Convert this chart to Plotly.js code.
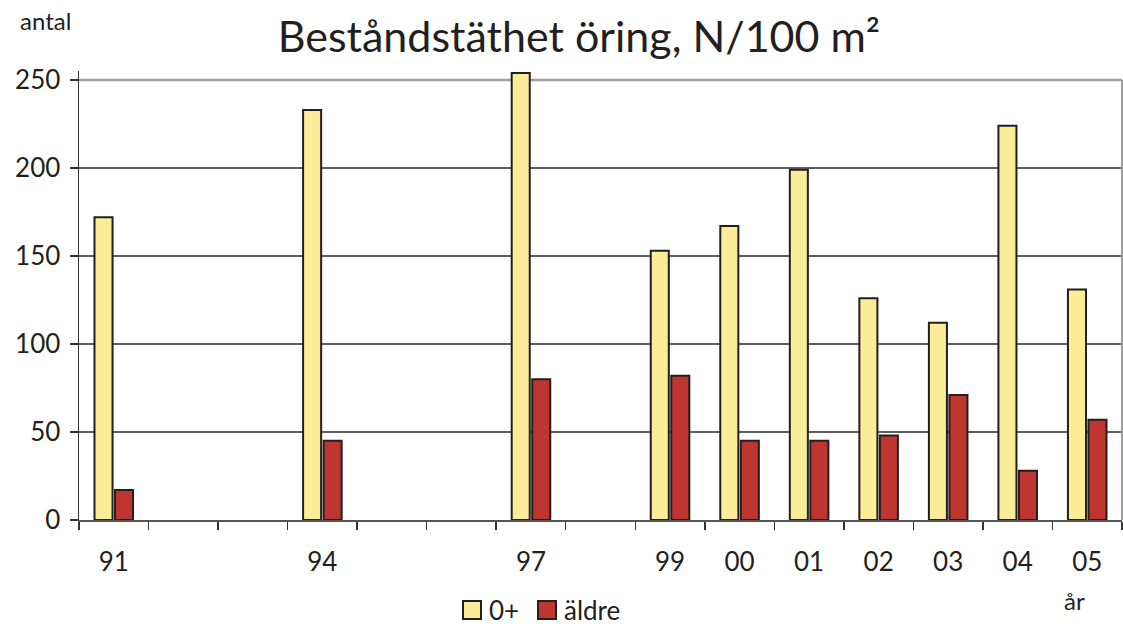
<!DOCTYPE html>
<html>
<head>
<meta charset="utf-8">
<script src="https://cdn.plot.ly/plotly-3.0.1.min.js"></script>
<style>
html,body{margin:0;padding:0;background:#fff;}
#chart{width:1123px;height:630px;}
</style>
</head>
<body>
<div id="chart"></div>
<script>
// Years on a category axis (one slot per year, empty slots for years without data)
const years = ['91','92','93','94','95','96','97','98','99','00','01','02','03','04','05'];
const yearLabels = ['91','','','94','','','97','','99','00','01','02','03','04','05'];
const young = [172, null, null, 233, null, null, 254, null, 153, 167, 199, 126, 112, 224, 131];
const older = [17, null, null, 45, null, null, 80, null, 82, 45, 45, 48, 71, 28, 57];
const seriesNames = ['0+', 'äldre'];
const seriesColors = ['#fbec98', '#bf3530'];
const yTicks = [0, 50, 100, 150, 200, 250];

const FONT = 'Lato, "DejaVu Sans", sans-serif';
const TXT = '#231f20';
const YMAX = 255.1; // top of plotting area (bar for 97 rises a little above the 250 frame)
const YTOP = yTicks[yTicks.length - 1];

const traces = seriesNames.map((n, i) => ({
  type:'bar', name:n, x:years, y:[young, older][i], showlegend:false,
  marker:{color:seriesColors[i], line:{color:'#231f20', width:2}}
}));

// gridlines: dark inner lines, grey frame line at the top value
const gridShapes = yTicks.filter(v => v > 0).map(v => ({
  type:'line', xref:'paper', yref:'y', x0:0, x1:1, y0:v, y1:v, layer:'below',
  line:{color: v === YTOP ? '#a0a0a0' : '#2a2a2a', width: v === YTOP ? 2.5 : 1.5}
}));

// custom legend (bigger swatches as in the reference)
const legShapes = [], legAnn = [];
const legX = [463, 538], legTextX = [487, 562];
seriesNames.forEach((n, i) => {
  legShapes.push({type:'rect', xref:'paper', yref:'paper',
    x0:(legX[i]-79)/1043, x1:(legX[i]+18-79)/1043,
    y0:(520-619)/449, y1:(520-601)/449,
    fillcolor:seriesColors[i], line:{color:'#231f20', width:2}});
  legAnn.push({text:n, xref:'paper', yref:'paper', x:(legTextX[i]-79)/1043, y:(520-610)/449,
    xanchor:'left', yanchor:'middle', showarrow:false, font:{size:26, color:TXT}});
});

const layout = {
  width:1123, height:630,
  margin:{l:79, r:1, t:71, b:110},
  paper_bgcolor:'#fff', plot_bgcolor:'#fff',
  font:{family:FONT, color:TXT, size:26},
  barmode:'group', bargap:0.41, bargroupgap:0.12,
  showlegend:false,
  title:{text:'Beståndstäthet öring, N/100 m²', x:579/1123, xanchor:'center', xref:'container',
         y:1-37/630, yanchor:'middle', yref:'container', font:{size:43, color:TXT, family:FONT}},
  xaxis:{type:'category', categoryorder:'array', categoryarray:years,
         tickmode:'array', tickvals:years, ticktext:yearLabels,
         tickson:'boundaries', ticks:'outside', ticklen:8, tickcolor:'#333', tickwidth:1.5,
         showline:true, linecolor:'#555', linewidth:2, showgrid:false, zeroline:false,
         tickfont:{size:26, color:TXT}, ticklabelstandoff:18},
  yaxis:{range:[0,YMAX], tickmode:'array', tickvals:yTicks, ticks:'outside', ticklen:8,
         tickcolor:'#333', tickwidth:1.5, showline:true, linecolor:'#333', linewidth:1.5,
         showgrid:false, zeroline:false,
         tickfont:{size:26, color:TXT}, ticklabelstandoff:4},
  shapes:gridShapes.concat([
    {type:'line', xref:'paper', yref:'y', x0:1, x1:1, y0:0, y1:YTOP,
     line:{color:'#a0a0a0', width:2}, layer:'below'}
  ]).concat(legShapes),
  annotations:[
    {text:'antal', xref:'paper', yref:'paper', x:(18-79)/1043, y:(520-20)/449, xanchor:'left', yanchor:'middle',
     showarrow:false, font:{size:24, color:TXT}},
    {text:'år', xref:'paper', yref:'paper', x:(1074-79)/1043, y:(520-600)/449, xanchor:'center', yanchor:'middle',
     showarrow:false, font:{size:24, color:TXT}}
  ].concat(legAnn)
};

Plotly.newPlot('chart', traces, layout, {displayModeBar:false, staticPlot:true});
</script>
</body>
</html>
